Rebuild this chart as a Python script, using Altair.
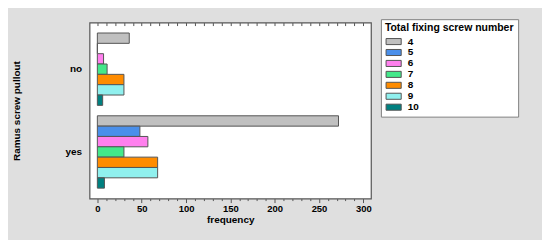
import altair as alt
import pandas as pd

pullout = ["no", "yes"]
screw_numbers = ["4", "5", "6", "7", "8", "9", "10"]
freq_no = [36, 0, 7, 11, 30, 30, 6]
freq_yes = [272, 48, 57, 30, 68, 68, 8]
colors = ["#c0c0c0", "#4a8fea", "#ff80ee", "#44e88a", "#ff8c00", "#90f0ee", "#008080"]
x_ticks = list(range(0, 310, 10))

rows = []
for p, vals in zip(pullout, [freq_no, freq_yes]):
    for n, v in zip(screw_numbers, vals):
        rows.append({"pullout": p, "screws": n, "frequency": v})
df = pd.DataFrame(rows)

FONT = "Liberation Sans"

x_scale = alt.Scale(domain=[-8.8, 308.6], nice=False, zero=False)
y_enc = alt.Y(
    "pullout:N",
    sort=pullout,
    scale=alt.Scale(paddingInner=0.126, paddingOuter=0.126),
    axis=alt.Axis(
        title="Ramus screw pullout",
        ticks=False,
        domain=False,
        labelPadding=8,
        labelFontSize=10,
        labelFontWeight="bold",
        labelColor="#000",
        titleFontSize=10,
        titleFontWeight="bold",
        titleColor="#000",
        titleAngle=270,
        titleX=-73,
        titleY=88.5,
        titleAlign="center",
        titleBaseline="middle",
    ),
)

bars = alt.Chart(df).mark_bar(stroke="#555555", strokeWidth=1).encode(
    x=alt.X(
        "frequency:Q",
        scale=x_scale,
        axis=alt.Axis(
            orient="bottom",
            values=x_ticks,
            labelExpr="datum.value % 50 === 0 ? datum.label : ''",
            labelOverlap=False,
            labelFontSize=9.5,
            labelFontWeight="bold",
            labelColor="#000",
            labelPadding=0.5,
            domain=False,
            grid=False,
            tickColor="#555555",
            tickSize={"condition": {"test": "datum.value % 50 === 0", "value": 4}, "value": 2},
            title="frequency",
            titleFontSize=10,
            titleFontWeight="bold",
            titleColor="#000",
            titlePadding=2,
        ),
    ),
    y=y_enc,
    yOffset=alt.YOffset("screws:N", sort=screw_numbers, scale=alt.Scale(paddingInner=0, paddingOuter=0)),
    color=alt.Color(
        "screws:N",
        sort=screw_numbers,
        scale=alt.Scale(domain=screw_numbers, range=colors),
        legend=alt.Legend(
            title="Total fixing screw number",
            orient="none",
            legendX=293,
            legendY=-3.4,
            titleFontSize=10.5,
            titleFontWeight="bold",
            titleColor="#000",
            titlePadding=3,
            labelFontSize=10,
            labelFontWeight="bold",
            labelColor="#000",
            labelOffset=13,
            symbolType="M-1,-0.8H3V0.8H-1Z",
            symbolSize=58,
            symbolStrokeColor="#555555",
            symbolStrokeWidth=1,
            symbolOpacity=1,
            rowPadding=-1.2,
            padding=4,
            fillColor="#ffffff",
            strokeColor="#808080",
        ),
    ),
)

top_axis = alt.Chart(df).mark_point(opacity=0).encode(
    x=alt.X(
        "frequency:Q",
        scale=x_scale,
        axis=alt.Axis(
            orient="top",
            values=x_ticks,
            labels=False,
            domain=False,
            grid=False,
            title=None,
            tickColor="#555555",
            tickSize=3,
            offset=-3,
        ),
    ),
    y=alt.Y("pullout:N", sort=pullout),
)

chart = (
    alt.layer(bars, top_axis)
    .resolve_axis(x="independent")
    .properties(
        width=283,
        height=177,
        autosize=alt.AutoSizeParams(type="none"),
        padding={"left": 82, "top": 14, "right": 172, "bottom": 41},
        background="#dfdfdf",
    )
    .configure(font=FONT)
    .configure_view(fill="#ffffff", stroke="#555555", strokeWidth=1.2)
)

chart.save("out.html", embed_options={"renderer": "svg", "actions": False})
